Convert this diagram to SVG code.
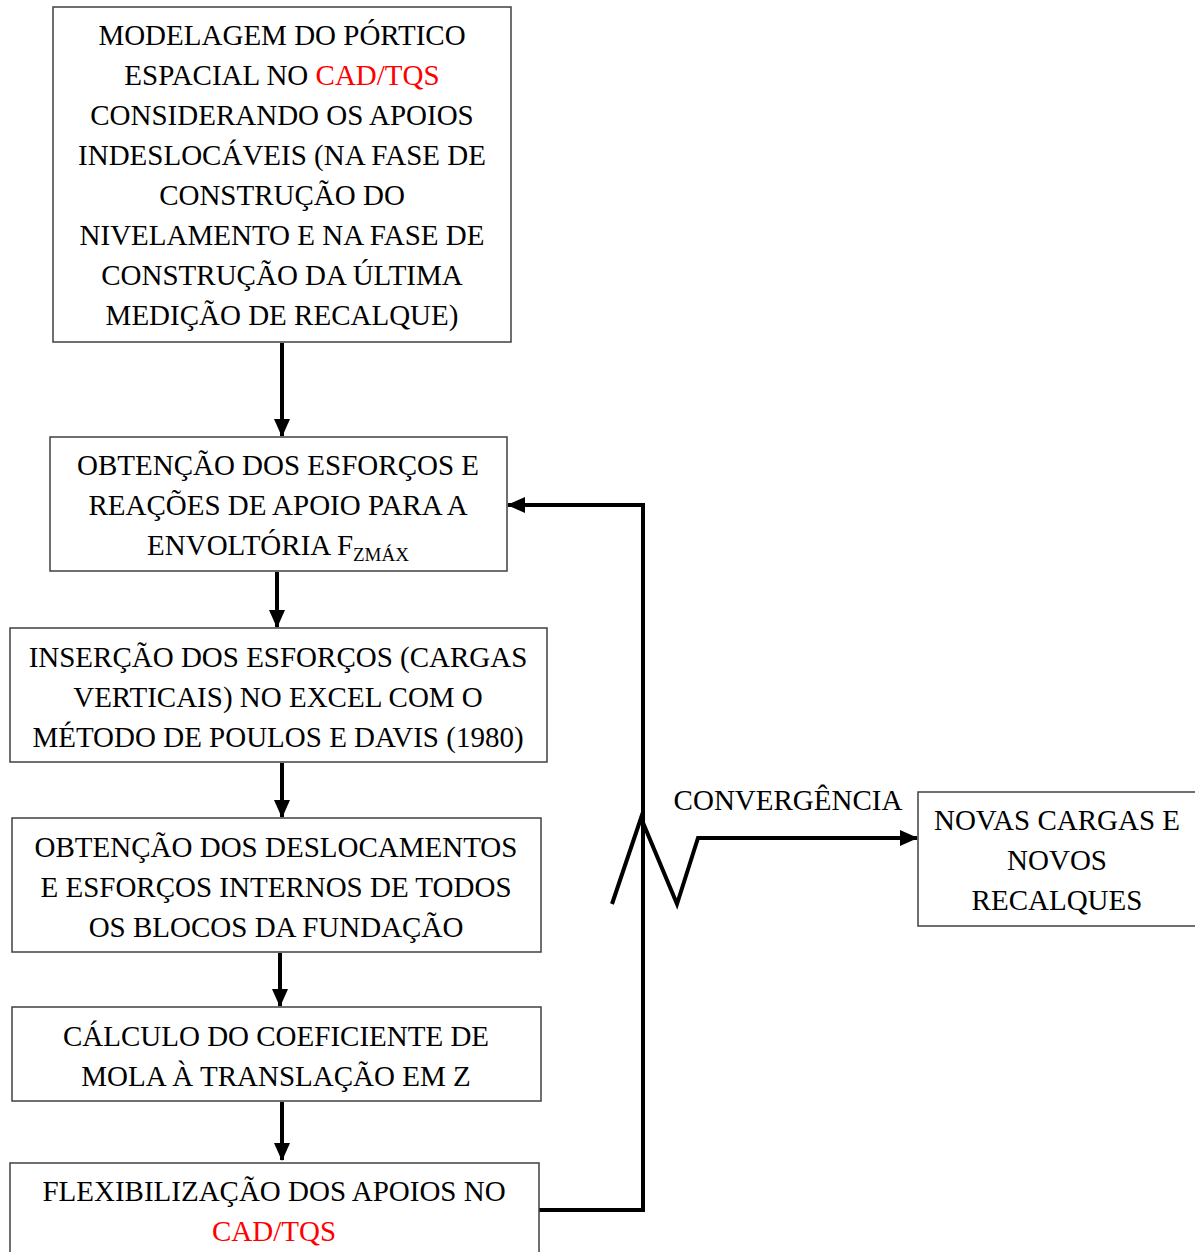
<svg xmlns="http://www.w3.org/2000/svg" width="1195" height="1252" viewBox="0 0 1195 1252">
<style>
.box{fill:#fff;stroke:#404040;stroke-width:1.5}
.t{font-family:"Liberation Serif","Times New Roman",serif;font-size:29px;fill:#000;text-anchor:middle}
.red{fill:#ff0000}
.ln{fill:none;stroke:#000;stroke-width:4}
</style>
<defs>
<marker id="ah" markerUnits="userSpaceOnUse" markerWidth="18" markerHeight="16" refX="17" refY="8" orient="auto">
<path d="M0,0 L18,8 L0,16 Z" fill="#000"/>
</marker>
</defs>
<rect width="1195" height="1252" fill="#fff"/>
<g id="connectors">
<line class="ln" x1="282" y1="343" x2="282" y2="436" marker-end="url(#ah)"/>
<line class="ln" x1="277" y1="572" x2="277" y2="627" marker-end="url(#ah)"/>
<line class="ln" x1="282" y1="763" x2="282" y2="817" marker-end="url(#ah)"/>
<line class="ln" x1="280" y1="953" x2="280" y2="1006" marker-end="url(#ah)"/>
<line class="ln" x1="282" y1="1102" x2="282" y2="1160" marker-end="url(#ah)"/>
<polyline class="ln" points="539,1210 643,1210 643,505 508,505" marker-end="url(#ah)"/>
<polyline class="ln" points="612,904 641,818 677,904 698,838 917,838" marker-end="url(#ah)"/>
</g>
<g id="n1">
<rect class="box" x="53" y="7" width="458" height="335"/>
<text class="t" x="282" y="45">MODELAGEM DO PÓRTICO</text>
<text class="t" x="282" y="85">ESPACIAL NO <tspan class="red">CAD/TQS</tspan></text>
<text class="t" x="282" y="125">CONSIDERANDO OS APOIOS</text>
<text class="t" x="282" y="165">INDESLOCÁVEIS (NA FASE DE</text>
<text class="t" x="282" y="205">CONSTRUÇÃO DO</text>
<text class="t" x="282" y="245">NIVELAMENTO E NA FASE DE</text>
<text class="t" x="282" y="285">CONSTRUÇÃO DA ÚLTIMA</text>
<text class="t" x="282" y="325">MEDIÇÃO DE RECALQUE)</text>
</g>
<g id="n2">
<rect class="box" x="50" y="437" width="457" height="134"/>
<text class="t" x="278" y="475">OBTENÇÃO DOS ESFORÇOS E</text>
<text class="t" x="278" y="515">REAÇÕES DE APOIO PARA A</text>
<text class="t" x="278" y="555">ENVOLTÓRIA F<tspan font-size="19" dy="6">ZMÁX</tspan></text>
</g>
<g id="n3">
<rect class="box" x="10" y="628" width="537" height="134"/>
<text class="t" x="278" y="667">INSERÇÃO DOS ESFORÇOS (CARGAS</text>
<text class="t" x="278" y="707">VERTICAIS) NO EXCEL COM O</text>
<text class="t" x="278" y="747">MÉTODO DE POULOS E DAVIS (1980)</text>
</g>
<g id="n4">
<rect class="box" x="12" y="818" width="529" height="134"/>
<text class="t" x="276" y="857">OBTENÇÃO DOS DESLOCAMENTOS</text>
<text class="t" x="276" y="897">E ESFORÇOS INTERNOS DE TODOS</text>
<text class="t" x="276" y="937">OS BLOCOS DA FUNDAÇÃO</text>
</g>
<g id="n5">
<rect class="box" x="12" y="1007" width="529" height="94"/>
<text class="t" x="276" y="1046">CÁLCULO DO COEFICIENTE DE</text>
<text class="t" x="276" y="1086">MOLA À TRANSLAÇÃO EM Z</text>
</g>
<g id="n6">
<rect class="box" x="10" y="1163" width="529" height="100"/>
<text class="t" x="274" y="1201">FLEXIBILIZAÇÃO DOS APOIOS NO</text>
<text class="t red" x="274" y="1241">CAD/TQS</text>
</g>
<g id="n7">
<rect class="box" x="918" y="792" width="280" height="134"/>
<text class="t" x="1057" y="830">NOVAS CARGAS E</text>
<text class="t" x="1057" y="870">NOVOS</text>
<text class="t" x="1057" y="910">RECALQUES</text>
</g>
<g id="label">
<text class="t" x="788" y="810">CONVERGÊNCIA</text>
</g>
</svg>
